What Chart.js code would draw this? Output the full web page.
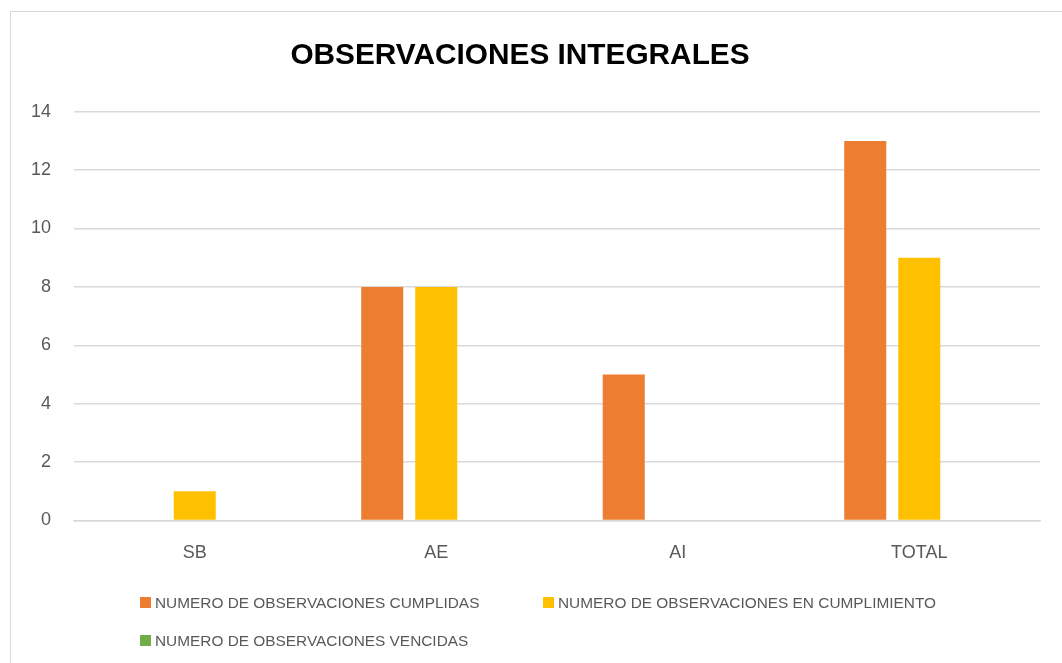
<!DOCTYPE html>
<html>
<head>
<meta charset="utf-8">
<title>Observaciones integrales</title>
<script src="https://cdn.jsdelivr.net/npm/chart.js@4.4.1/dist/chart.umd.min.js"></script>
<style>
	html, body { margin: 0; padding: 0; background: #fff; overflow: hidden; }
	body { width: 1062px; height: 663px; position: relative; font-family: "Liberation Sans", Arial, sans-serif; }
	#marco { position: absolute; left: 10px; top: 11px; width: 1100px; height: 700px; border: 1px solid #d9d9d9; box-sizing: border-box; }
	#wrap { position: absolute; left: 0; top: 0; width: 1062px; height: 663px; }
	#leyenda { position: absolute; left: 140px; top: 594px; display: grid; grid-template-columns: 403px auto; row-gap: 21px; }
	.item { display: flex; align-items: center; font-size: 15.4px; color: #595959; height: 17px; white-space: nowrap; }
	.caja { width: 11px; height: 11px; margin-right: 4px; flex: none; }
</style>
</head>
<body>
<div id="marco"></div>
<div id="wrap"><canvas id="observaciones"></canvas></div>
<div id="leyenda"></div>
<script>
const categorias = ["SB", "AE", "AI", "TOTAL"];
const cumplidas = [0, 8, 5, 13];
const enCumplimiento = [1, 8, 0, 9];
const vencidas = [0, 0, 0, 0];

const series = [
	{ label: "NUMERO DE OBSERVACIONES CUMPLIDAS", data: cumplidas, color: "#ED7D31" },
	{ label: "NUMERO DE OBSERVACIONES EN CUMPLIMIENTO", data: enCumplimiento, color: "#FFC000" },
	{ label: "NUMERO DE OBSERVACIONES VENCIDAS", data: vencidas, color: "#70AD47" }
];

const gris = '#d9d9d9';
const texto = '#595959';

const grafico = new Chart(document.getElementById("observaciones"), {
	type: 'bar',
	data: {
		labels: categorias,
		datasets: series.map(s => ({
			label: s.label,
			data: s.data,
			backgroundColor: s.color,
			borderWidth: 0,
			categoryPercentage: 0.671,
			barPercentage: 0.778
		}))
	},
	options: {
		responsive: true,
		maintainAspectRatio: false,
		animation: false,
		layout: { padding: { left: 0, right: 22, top: 0, bottom: 85 } },
		plugins: {
			legend: { display: false },
			tooltip: { enabled: false },
			title: {
				display: true,
				text: 'OBSERVACIONES INTEGRALES',
				color: '#000',
				font: { family: '"Liberation Sans", Arial, sans-serif', size: 29.8, weight: 'bold' },
				padding: { top: 38, bottom: 38 }
			}
		},
		scales: {
			x: {
				grid: { display: false },
				border: { display: true, color: gris, width: 1.5 },
				ticks: {
					color: texto,
					padding: 14,
					maxRotation: 0,
					font: { family: '"Liberation Sans", Arial, sans-serif', size: 18 }
				}
			},
			y: {
				min: 0,
				max: 14,
				grid: { color: gris, lineWidth: 1.5, drawTicks: false },
				border: { display: false },
				ticks: {
					stepSize: 2,
					color: texto,
					padding: 23,
					font: { family: '"Liberation Sans", Arial, sans-serif', size: 18 }
				},
				afterFit: (escala) => { escala.width = 74; }
			}
		}
	}
});

// leyenda en dos columnas como en la hoja original
const leyenda = document.getElementById('leyenda');
grafico.data.datasets.forEach(ds => {
	const item = document.createElement('div');
	item.className = 'item';
	const caja = document.createElement('span');
	caja.className = 'caja';
	caja.style.background = ds.backgroundColor;
	const etiqueta = document.createElement('span');
	etiqueta.textContent = ds.label;
	item.appendChild(caja);
	item.appendChild(etiqueta);
	leyenda.appendChild(item);
});
</script>
</body>
</html>
